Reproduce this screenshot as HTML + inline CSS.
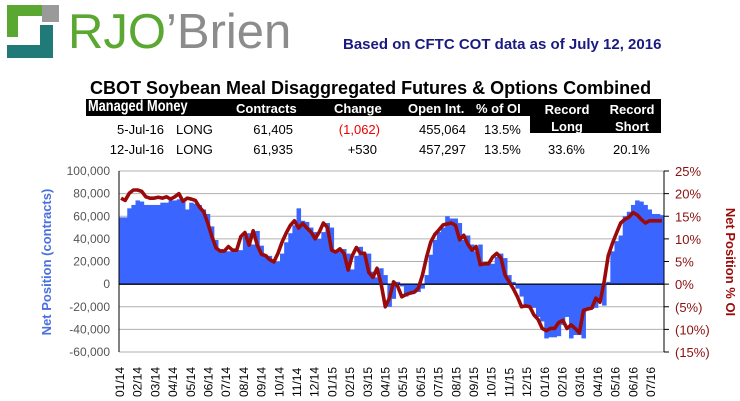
<!DOCTYPE html>
<html><head><meta charset="utf-8"><style>
body{margin:0;width:740px;height:401px;background:#fff;position:relative;overflow:hidden;font-family:"Liberation Sans",Arial,sans-serif}
.a{position:absolute;white-space:nowrap}
.h{color:#fff;font-weight:bold;font-size:13px}
.c{font-size:13px;color:#000}
</style></head><body>
<div class="a" style="left:0;top:0;width:300px;height:60px">
 <svg width="300" height="60">
  <rect x="7" y="5" width="46" height="11" fill="#5aa832"/><rect x="7" y="5" width="11" height="32" fill="#5aa832"/>
  <rect x="42" y="5" width="17" height="17" fill="#9a9a9a"/>
  <polygon points="7,45 40,45 40,25 53,25 53,58 7,58" fill="#1f7a78"/>
 </svg>
 <div class="a" style="left:68px;top:4px;font-size:49px;line-height:56px"><span style="color:#5aa832">RJO</span><span style="color:#8c8c8c">’Brien</span></div>
</div>
<div class="a" style="left:343px;top:36px;font-size:15px;font-weight:bold;color:#1a1a80">Based on CFTC COT data as of July 12, 2016</div>
<div class="a" style="left:90px;top:78px;font-size:18px;font-weight:bold;color:#000">CBOT Soybean Meal Disaggregated Futures &amp; Options Combined</div>
<div class="a" style="left:86px;top:99px;width:575px;height:17px;background:#000"></div>
<div class="a" style="left:530px;top:99px;width:131px;height:34px;background:#000"></div>
<div class="a h" style="left:88px;top:98px;font-size:16px;transform:scaleX(0.8);transform-origin:left">Managed Money</div>
<div class="a h" style="left:236px;top:101px">Contracts</div>
<div class="a h" style="left:334px;top:101px">Change</div>
<div class="a h" style="left:408px;top:101px">Open Int.</div>
<div class="a h" style="left:476px;top:101px">% of OI</div>
<div class="a h" style="left:543px;top:101px;text-align:center;width:48px;line-height:17px">Record<br>Long</div>
<div class="a h" style="left:608px;top:101px;text-align:center;width:48px;line-height:17px">Record<br>Short</div>
<div>
<div class="a c" style="right:576px;top:122px">5-Jul-16</div><div class="a c" style="left:176px;top:122px">LONG</div>
<div class="a c" style="right:447px;top:122px">61,405</div><div class="a c" style="right:360px;top:122px;color:#e00">(1,062)</div>
<div class="a c" style="right:274px;top:122px">455,064</div><div class="a c" style="left:484px;top:122px">13.5%</div></div>
<div>
<div class="a c" style="right:576px;top:142px">12-Jul-16</div><div class="a c" style="left:176px;top:142px">LONG</div>
<div class="a c" style="right:447px;top:142px">61,935</div><div class="a c" style="right:363px;top:142px">+530</div>
<div class="a c" style="right:274px;top:142px">457,297</div><div class="a c" style="left:484px;top:142px">13.5%</div>
<div class="a c" style="left:548px;top:142px">33.6%</div><div class="a c" style="left:613px;top:142px">20.1%</div></div>
<svg id="ch" class="a" style="left:0;top:0" width="740" height="401"></svg>
<script>
const bars=[59,59,67,70,74,73,70,70,70,70,72,72,74,74,75,73,66,72,71,70,66,62,51,39,31,30,29,29,30,30,42,45,35,47,34,26,25,22,20,27,37,45,52,67,56,55,50,46,40,46,54,50,30,29,31,27,13,25,33,27,27,11,6,14,8,-20,-13,2,-2,-11,-9,-8,-7,-4,8,26,39,46,50,60,58,58,54,39,43,35,29,35,17,18,18,24,27,23,8,2,-4,-11,-21,-20,-21,-29,-33,-48,-47,-47,-46,-36,-29,-48,-45,-45,-48,-23,-22,-21,-13,-19,2,29,38,43,60,64,70,74,73,70,66,62,62,61];
const pct=[19,18.5,20.1,20.8,20.8,20.5,19.3,19,19,19.2,19,19.3,18.8,19.3,20,18.3,19,18.8,18.5,17,16,13.5,10.5,8,7.3,7.3,8.3,7.5,7.5,10.5,11.4,8.6,11.8,8.6,6.6,6.3,5.4,4.9,6.8,9.3,11.3,13,14,12.4,13.4,12.4,11.5,10,11.5,13.5,12.5,7.5,7.1,7.8,6.8,3.1,6.3,8.1,6.8,6.8,2.6,1.5,3.5,0,-5,-3.1,0.5,-0.5,-2.8,-2.3,-2,-1.8,-0.9,2,6,9.3,11,12,13.1,13.3,13.5,13,9.8,10.8,8.8,7.5,8.3,4.3,4.5,4.5,6,6.8,5.8,2,0.5,-1,-2.8,-5,-4.8,-5,-6.8,-7.8,-9.8,-10.3,-9.8,-9.8,-8.5,-8,-9.8,-9,-9.8,-10.8,-5.8,-5.5,-5.3,-3.1,-4,0.5,6.3,9,11.3,13.5,14.3,14.8,15.8,15.3,14.3,13.5,14,14,14,14];
const months=["01/14","02/14","03/14","04/14","05/14","06/14","07/14","08/14","09/14","10/14","11/14","12/14","01/15","02/15","03/15","04/15","05/15","06/15","07/15","08/15","09/15","10/15","11/15","12/15","01/16","02/16","03/16","04/16","05/16","06/16","07/16"];
const leftTicks=[100000,80000,60000,40000,20000,0,-20000,-40000,-60000];
const rightTicks=[25,20,15,10,5,0,-5,-10,-15];
const NS="http://www.w3.org/2000/svg",svg=document.getElementById('ch');
const X0=119,X1=664,Y0=171,Y1=352;
const yL=v=>Y1-(v+60000)/160000*(Y1-Y0);
const yR=p=>Y1-(p+15)/40*(Y1-Y0);
const bw=(X1-X0)/bars.length;
const xi=i=>X0+i*bw;
function mk(t,a){const e=document.createElementNS(NS,t);for(const k in a)e.setAttribute(k,a[k]);svg.appendChild(e);return e;}
leftTicks.forEach(v=>{
 const g=mk('line',{x1:X0,x2:X1,y1:yL(v),y2:yL(v),stroke:v===0?'#000':'#b0b0b0','stroke-width':v===0?1.2:1});
 
 
 const t=mk('text',{x:110,y:yL(v)+4,'text-anchor':'end','font-size':12,fill:'#555','font-family':'Liberation Sans'});
 t.textContent=v.toLocaleString('en-US');
 
 
});
rightTicks.forEach(p=>{
 const t=mk('text',{x:675,y:yR(p)+5,'font-size':13,fill:'#8b1010','font-family':'Liberation Sans'});
 t.textContent=p<0?'('+(-p)+'%)':p+'%';
 
 
});
bars.forEach((v,i)=>{
 const y=yL(v*1000),z=yL(0);
 const r=mk('rect',{x:xi(i),y:Math.min(y,z),width:bw+0.4,height:Math.abs(z-y),fill:'#3a66ff'});
 
 
});
const zl=mk('line',{x1:X0,x2:X1,y1:yL(0),y2:yL(0),stroke:'#000','stroke-width':1.2});


const pl=mk('polyline',{points:pct.map((p,i)=>(xi(i)+bw/2)+','+yR(p)).join(' '),fill:'none',stroke:'#9b0a0a','stroke-width':3.6,'stroke-linejoin':'round'});


const ax1=mk('line',{x1:X0,x2:X0,y1:Y0,y2:Y1,stroke:'#000'});


const ax2=mk('line',{x1:X1,x2:X1,y1:Y0,y2:Y1,stroke:'#000'});


rightTicks.forEach(p=>{const k=mk('line',{x1:X1,x2:X1+5,y1:yR(p),y2:yR(p),stroke:'#000'});
 
 });
months.forEach((m,i)=>{
 const x=120+i*17.7+4;
 const t=mk('text',{x:0,y:0,transform:`translate(${x},397) rotate(-90)`,'font-size':12,fill:'#000','font-family':'Liberation Sans'});
 t.textContent=m;
 
 
});
const lt=mk('text',{transform:'translate(51,262) rotate(-90)','text-anchor':'middle','font-size':13,'font-weight':'bold',fill:'#4a6fe0','font-family':'Liberation Sans'});
lt.textContent='Net Position (contracts)';


const rt=mk('text',{transform:'translate(726,262) rotate(90)','text-anchor':'middle','font-size':13,'font-weight':'bold',fill:'#9b0a0a','font-family':'Liberation Sans'});
rt.textContent='Net Position % OI';


</script>
</body></html>
